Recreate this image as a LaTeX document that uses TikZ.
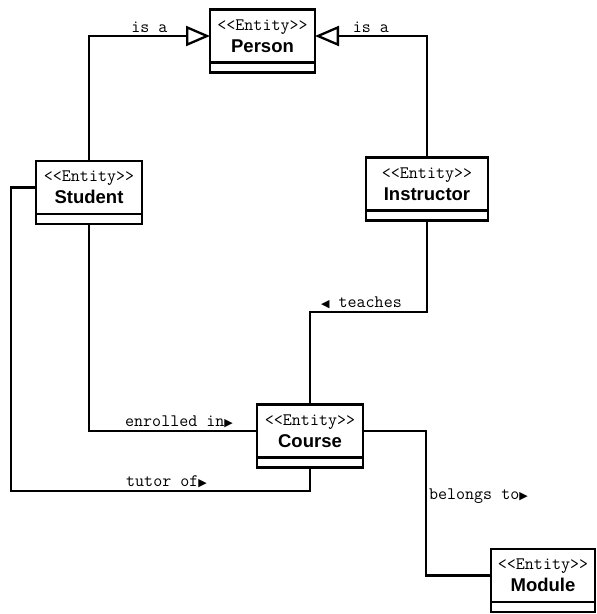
\documentclass[tikz,border=0pt]{standalone}
\usepackage{fontspec}
\setsansfont{Liberation Sans}
\newfontfamily\symfont{DejaVu Sans}
\usetikzlibrary{positioning}
\usetikzlibrary{arrows.meta}
\newcommand{\entitytag}{{\ttfamily\fontsize{17.5}{19}\selectfont <<Entity>>}}
\newcommand{\ename}[1]{{\sffamily\bfseries\fontsize{18.5}{21}\selectfont #1}}
\newcommand{\rtri}{{\symfont\fontsize{11}{11}\selectfont ▶}}
\newcommand{\ltri}{{\symfont\fontsize{11}{11}\selectfont ◀}}
\tikzset{%
	entity/.style={draw,line width=2.8pt,fill=white,align=center,outer sep=0pt,inner sep=0pt,minimum height=53pt,minimum width=#1},
	compart/.style={draw,line width=2.8pt,fill=white,outer sep=0pt,inner sep=0pt,minimum height=10pt,minimum width=#1},
	link/.style={line width=2.3pt},
	isa/.style={link,-{Triangle[open,length=24pt,width=20pt]}},
	lbl/.style={font=\ttfamily\fontsize{17.5}{19}\selectfont,inner sep=2pt}
}

\begin{document}
\begin{tikzpicture}[x=1pt,y=-1pt]
		\useasboundingbox (0,0) rectangle (597,614);

		\node [entity=105pt] (person) at (262.5,36) {\entitytag\\[4pt]\ename{Person}};
		\node [compart=105pt,below=0pt of person] (personc) {};
		\node [entity=106pt] (student) at (89,187.5) {\entitytag\\[4pt]\ename{Student}};
		\node [compart=106pt,below=0pt of student] (studentc) {};
		\node [entity=122pt] (instructor) at (427,184) {\entitytag\\[4pt]\ename{Instructor}};
		\node [compart=122pt,below=0pt of instructor] (instructorc) {};
		\node [entity=106pt] (course) at (310,431) {\entitytag\\[4pt]\ename{Course}};
		\node [compart=106pt,below=0pt of course] (coursec) {};
		\node [entity=104pt] (module) at (543,575.5) {\entitytag\\[4pt]\ename{Module}};
		\node [compart=104pt,below=0pt of module] (modulec) {};

		\coordinate (teachbend) at (310,312);
		\coordinate (tutorbend) at (11,491);
		\coordinate (belongbend) at (426,496);

		\draw [isa] (student.north) |- node[lbl,pos=0.75,above]{is a} (person.west);
		\draw [isa] (instructor.north) |- node[lbl,pos=0.75,above]{is a} (person.east);
		\draw [link] (instructorc.south) |- node[lbl,pos=0.75,above,xshift=-7pt]{\ltri\ teaches} (teachbend) -- (course.north);
		\draw [link] (studentc.south) |- node[lbl,pos=0.75,above,xshift=6pt]{enrolled in\rtri} (course.west);
		\draw [link] (student.west) -| (tutorbend) -| node[lbl,pos=0.25,above,xshift=6pt]{tutor of\rtri} (coursec.south);
		\draw [link] (course.east) -| (belongbend) node[lbl,right]{belongs to\rtri} |- (module.west);

	\end{tikzpicture}
\end{document}
